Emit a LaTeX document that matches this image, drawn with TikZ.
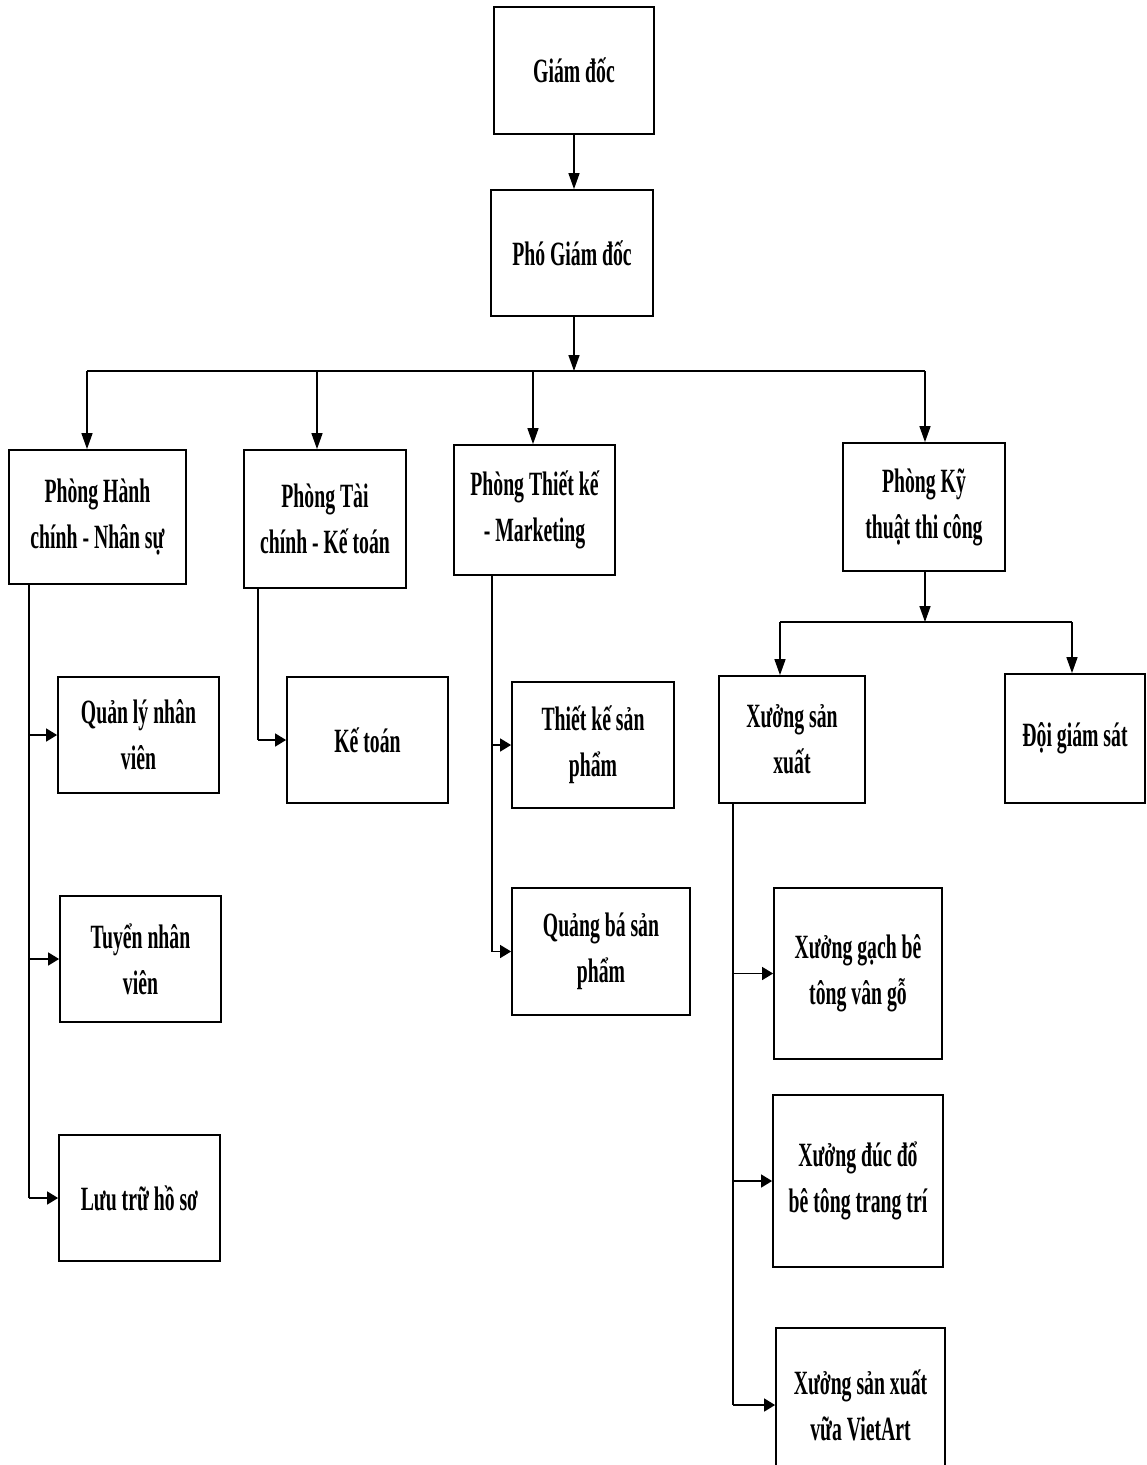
\documentclass[tikz,border=0pt]{standalone}
\usepackage{fontspec}
\setmainfont{Liberation Serif}[FakeStretch=0.58]
\usetikzlibrary{arrows.meta}

\begin{document}
\begin{tikzpicture}[x=1pt,y=-1pt,
  box/.style={draw, line width=1.8pt, align=center, inner sep=0pt,
    font=\fontsize{34}{46}\selectfont\bfseries},
  link/.style={line width=1.5pt},
  vdown/.style={link, -{Triangle[length=16pt,width=11pt]}},
  hright/.style={link, -{Triangle[length=11pt,width=13pt]}}]
\useasboundingbox (0,0) rectangle (1147,1465);

% management
\node[box, minimum width=160, minimum height=127] (gd)  at (574,70.5) {Giám đốc};
\node[box, minimum width=162, minimum height=126] (pgd) at (572,253) {Phó Giám đốc};

% departments
\node[box, minimum width=177, minimum height=134] (hc) at (97.5,517) {Phòng Hành\\chính - Nhân sự};
\node[box, minimum width=162, minimum height=138] (tc) at (325,519) {Phòng Tài\\chính - Kế toán};
\node[box, minimum width=161, minimum height=130] (tk) at (534.5,510) {Phòng Thiết kế\\- Marketing};
\node[box, minimum width=162, minimum height=128] (kt) at (924,507) {Phòng Kỹ\\thuật thi công};

% units
\node[box, minimum width=146, minimum height=127] (xsx) at (792,739.5) {Xưởng sản\\xuất};
\node[box, minimum width=140, minimum height=129] (dgs) at (1075,738.5) {Đội giám sát};
\node[box, minimum width=161, minimum height=116] (ql) at (138.5,735) {Quản lý nhân\\viên};
\node[box, minimum width=161, minimum height=126] (tn) at (140.5,959) {Tuyển nhân\\viên};
\node[box, minimum width=161, minimum height=126] (lt) at (139.5,1198) {Lưu trữ hồ sơ};
\node[box, minimum width=161, minimum height=126] (kto) at (367.5,740) {Kế toán};
\node[box, minimum width=162, minimum height=126] (tksp) at (593,745) {Thiết kế sản\\phẩm};
\node[box, minimum width=178, minimum height=127] (qb) at (601,951.5) {Quảng bá sản\\phẩm};
\node[box, minimum width=168, minimum height=171] (xg) at (858,973.5) {Xưởng gạch bê\\tông vân gỗ};
\node[box, minimum width=170, minimum height=172] (xd) at (858,1181) {Xưởng đúc đổ\\bê tông trang trí};
\node[box, minimum width=169, minimum height=154] (xv) at (860.5,1405) {Xưởng sản xuất\\vữa VietArt};

% junction points
\coordinate (bar)  at (574,371);
\coordinate (jhc)  at (87,371);
\coordinate (jtc)  at (317,371);
\coordinate (jtk)  at (533,371);
\coordinate (jkt)  at (925,371);
\coordinate (bar2) at (925,622);
\coordinate (jxsx) at (780,622);
\coordinate (jdgs) at (1072,622);
\coordinate (shc)  at (29,0);
\coordinate (stc)  at (258,0);
\coordinate (stk)  at (492,0);
\coordinate (sxsx) at (733,0);

% top chain
\draw[vdown] (gd.south) -- (gd.south |- pgd.north);
\draw[vdown] (bar |- pgd.south) -- (bar);
\draw[link] (jhc) -- (jkt);
\draw[vdown] (jhc) -- (jhc |- hc.north);
\draw[vdown] (jtc) -- (jtc |- tc.north);
\draw[vdown] (jtk) -- (jtk |- tk.north);
\draw[vdown] (jkt) -- (jkt |- kt.north);

% technical department
\draw[vdown] (bar2 |- kt.south) -- (bar2);
\draw[link] (jxsx) -- (jdgs);
\draw[vdown] (jxsx) -- (jxsx |- xsx.north);
\draw[vdown] (jdgs) -- (jdgs |- dgs.north);

% administration
\draw[link] (shc |- hc.south) -- (shc |- lt.west);
\draw[hright] (shc |- ql.west) -- (ql.west);
\draw[hright] (shc |- tn.west) -- (tn.west);
\draw[hright] (shc |- lt.west) -- (lt.west);

% finance
\draw[link] (stc |- tc.south) -- (stc |- kto.west);
\draw[hright] (stc |- kto.west) -- (kto.west);

% design and marketing
\draw[link] (stk |- tk.south) -- (stk |- qb.west);
\draw[hright] (stk |- tksp.west) -- (tksp.west);
\draw[hright] (stk |- qb.west) -- (qb.west);

% workshops
\draw[link] (sxsx |- xsx.south) -- (sxsx |- xv.west);
\draw[hright] (sxsx |- xg.west) -- (xg.west);
\draw[hright] (sxsx |- xd.west) -- (xd.west);
\draw[hright] (sxsx |- xv.west) -- (xv.west);
\end{tikzpicture}
\end{document}
